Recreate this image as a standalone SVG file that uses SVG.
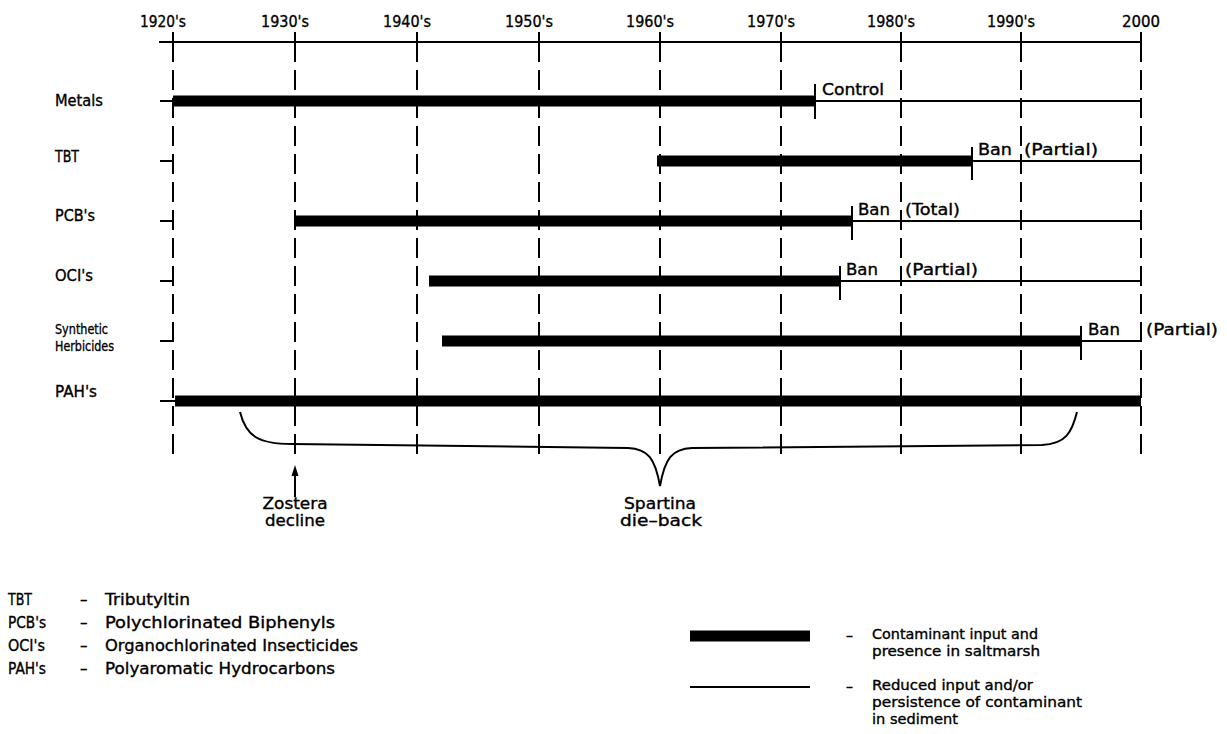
<svg xmlns="http://www.w3.org/2000/svg" width="1227" height="734" viewBox="0 0 1227 734">
<style>
text{font-family:"DejaVu Sans","Liberation Sans",sans-serif;font-size:15px;fill:#000;stroke:#000;stroke-width:0.35}
.yr{font-size:16px}
.sm{font-size:14px}
.grid{stroke:#000;stroke-width:2;stroke-dasharray:20 8;fill:none}
.tick{stroke:#000;stroke-width:2;fill:none}
.bar{stroke:#000;stroke-width:11;fill:none}
.thin{stroke:#000;stroke-width:2;fill:none}
</style>
<rect width="1227" height="734" fill="#fff"/>
<g id="axis">
<line class="tick" x1="159" y1="42" x2="1141" y2="42"/>
<g class="tick">
<line x1="173" y1="32" x2="173" y2="62"/><line x1="295" y1="32" x2="295" y2="62"/><line x1="417" y1="32" x2="417" y2="62"/><line x1="539" y1="32" x2="539" y2="62"/><line x1="660" y1="32" x2="660" y2="62"/><line x1="781" y1="32" x2="781" y2="62"/><line x1="901" y1="32" x2="901" y2="62"/><line x1="1021" y1="32" x2="1021" y2="62"/><line x1="1141" y1="32" x2="1141" y2="62"/>
</g>
<text class="yr" x="140" y="27" textLength="46" lengthAdjust="spacingAndGlyphs">1920's</text>
<text class="yr" x="261" y="27" textLength="48" lengthAdjust="spacingAndGlyphs">1930's</text>
<text class="yr" x="383" y="27" textLength="48" lengthAdjust="spacingAndGlyphs">1940's</text>
<text class="yr" x="505" y="27" textLength="48" lengthAdjust="spacingAndGlyphs">1950's</text>
<text class="yr" x="626" y="27" textLength="48" lengthAdjust="spacingAndGlyphs">1960's</text>
<text class="yr" x="747" y="27" textLength="48" lengthAdjust="spacingAndGlyphs">1970's</text>
<text class="yr" x="867" y="27" textLength="48" lengthAdjust="spacingAndGlyphs">1980's</text>
<text class="yr" x="987" y="27" textLength="48" lengthAdjust="spacingAndGlyphs">1990's</text>
<text class="yr" x="1141" y="27" text-anchor="middle" textLength="38" lengthAdjust="spacingAndGlyphs">2000</text>
</g>
<g id="gridlines">
<line class="grid" x1="173" y1="70" x2="173" y2="460"/>
<line class="grid" x1="295" y1="70" x2="295" y2="460"/>
<line class="grid" x1="417" y1="70" x2="417" y2="460"/>
<line class="grid" x1="539" y1="70" x2="539" y2="460"/>
<line class="grid" x1="660" y1="70" x2="660" y2="460"/>
<line class="grid" x1="781" y1="70" x2="781" y2="460"/>
<line class="grid" x1="901" y1="70" x2="901" y2="460"/>
<line class="grid" x1="1021" y1="70" x2="1021" y2="460"/>
<line class="grid" x1="1141" y1="70" x2="1141" y2="460"/>
</g>
<g id="row-metals">
<text x="55" y="106" textLength="48" lengthAdjust="spacingAndGlyphs">Metals</text>
<line class="tick" x1="160" y1="101" x2="173" y2="101"/>
<line class="bar" x1="173" y1="101" x2="815" y2="101"/>
<line class="tick" x1="815" y1="84" x2="815" y2="119"/>
<line class="thin" x1="815" y1="101" x2="1141" y2="101"/>
<text x="822" y="95" textLength="62" lengthAdjust="spacingAndGlyphs">Control</text>
</g>
<g id="row-tbt">
<text x="55" y="162" textLength="24" lengthAdjust="spacingAndGlyphs">TBT</text>
<line class="tick" x1="160" y1="161" x2="173" y2="161"/>
<line class="bar" x1="657" y1="161" x2="972" y2="161"/>
<line class="tick" x1="972" y1="147" x2="972" y2="180"/>
<line class="thin" x1="972" y1="161" x2="1141" y2="161"/>
<text x="978" y="155" textLength="34" lengthAdjust="spacingAndGlyphs">Ban</text>
<text x="1024" y="155" textLength="74" lengthAdjust="spacingAndGlyphs">(Partial)</text>
</g>
<g id="row-pcbs">
<text x="55" y="221" textLength="40" lengthAdjust="spacingAndGlyphs">PCB's</text>
<line class="tick" x1="160" y1="221" x2="173" y2="221"/>
<line class="bar" x1="295" y1="221" x2="852" y2="221"/>
<line class="tick" x1="852" y1="206" x2="852" y2="240"/>
<line class="thin" x1="852" y1="221" x2="1141" y2="221"/>
<text x="858" y="215" textLength="32" lengthAdjust="spacingAndGlyphs">Ban</text>
<text x="905" y="215" textLength="55" lengthAdjust="spacingAndGlyphs">(Total)</text>
</g>
<g id="row-ocis">
<text x="55" y="281" textLength="38" lengthAdjust="spacingAndGlyphs">OCI's</text>
<line class="tick" x1="160" y1="281" x2="173" y2="281"/>
<line class="bar" x1="429" y1="281" x2="840" y2="281"/>
<line class="tick" x1="840" y1="266" x2="840" y2="300"/>
<line class="thin" x1="840" y1="281" x2="1141" y2="281"/>
<text x="846" y="275" textLength="32" lengthAdjust="spacingAndGlyphs">Ban</text>
<text x="905" y="275" textLength="73" lengthAdjust="spacingAndGlyphs">(Partial)</text>
</g>
<g id="row-herbicides">
<text class="sm" x="55" y="334" textLength="53" lengthAdjust="spacingAndGlyphs">Synthetic</text>
<text class="sm" x="55" y="351" textLength="59" lengthAdjust="spacingAndGlyphs">Herbicides</text>
<line class="tick" x1="160" y1="341" x2="173" y2="341"/>
<line class="bar" x1="442" y1="341" x2="1081" y2="341"/>
<line class="tick" x1="1081" y1="326" x2="1081" y2="360"/>
<line class="thin" x1="1081" y1="341" x2="1141" y2="341"/>
<text x="1088" y="335" textLength="32" lengthAdjust="spacingAndGlyphs">Ban</text>
<text x="1146" y="335" textLength="72" lengthAdjust="spacingAndGlyphs">(Partial)</text>
</g>
<g id="row-pahs">
<text x="55" y="397" textLength="42" lengthAdjust="spacingAndGlyphs">PAH's</text>
<line class="tick" x1="160" y1="401" x2="175" y2="401"/>
<line class="bar" x1="175" y1="401" x2="1141" y2="401"/>
</g>
<g id="connectors">
<path class="thin" d="M240,412 C246,436 258,444 292,444 L628,448 C648,449 655,458 660,486 C665,458 672,449 692,448 L1042,445 C1066,444 1072,432 1077,412"/>
<line class="thin" x1="295" y1="497" x2="295" y2="472"/>
<path d="M295,465 L291.5,476 L298.5,476 Z" fill="#000"/>
</g>
<g id="events">
<text x="295" y="509" text-anchor="middle" textLength="65" lengthAdjust="spacingAndGlyphs">Zostera</text>
<text x="295" y="526" text-anchor="middle" textLength="60" lengthAdjust="spacingAndGlyphs">decline</text>
<text x="660" y="509" text-anchor="middle" textLength="72" lengthAdjust="spacingAndGlyphs">Spartina</text>
<text x="661" y="526" text-anchor="middle" textLength="82" lengthAdjust="spacingAndGlyphs">die–back</text>
</g>
<g id="legend-abbrev">
<text x="8" y="605" textLength="24" lengthAdjust="spacingAndGlyphs">TBT</text>
<text x="80" y="605">–</text>
<text x="105" y="605" textLength="85" lengthAdjust="spacingAndGlyphs">Tributyltin</text>
<text x="8" y="628" textLength="38" lengthAdjust="spacingAndGlyphs">PCB's</text>
<text x="80" y="628">–</text>
<text x="105" y="628" textLength="230" lengthAdjust="spacingAndGlyphs">Polychlorinated  Biphenyls</text>
<text x="8" y="651" textLength="37" lengthAdjust="spacingAndGlyphs">OCI's</text>
<text x="80" y="651">–</text>
<text x="105" y="651" textLength="253" lengthAdjust="spacingAndGlyphs">Organochlorinated  Insecticides</text>
<text x="8" y="674" textLength="38" lengthAdjust="spacingAndGlyphs">PAH's</text>
<text x="80" y="674">–</text>
<text x="105" y="674" textLength="230" lengthAdjust="spacingAndGlyphs">Polyaromatic  Hydrocarbons</text>
</g>
<g id="legend-key">
<line class="bar" x1="690" y1="636" x2="810" y2="636"/>
<text class="sm" x="846" y="640">–</text>
<text class="sm" x="872" y="639" textLength="166" lengthAdjust="spacingAndGlyphs">Contaminant  input  and</text>
<text class="sm" x="872" y="656" textLength="168" lengthAdjust="spacingAndGlyphs">presence  in  saltmarsh</text>
<line class="thin" x1="690" y1="687" x2="810" y2="687"/>
<text class="sm" x="846" y="691">–</text>
<text class="sm" x="872" y="690" textLength="161" lengthAdjust="spacingAndGlyphs">Reduced  input  and/or</text>
<text class="sm" x="872" y="707" textLength="210" lengthAdjust="spacingAndGlyphs">persistence  of  contaminant</text>
<text class="sm" x="872" y="724" textLength="86" lengthAdjust="spacingAndGlyphs">in  sediment</text>
</g>
</svg>
